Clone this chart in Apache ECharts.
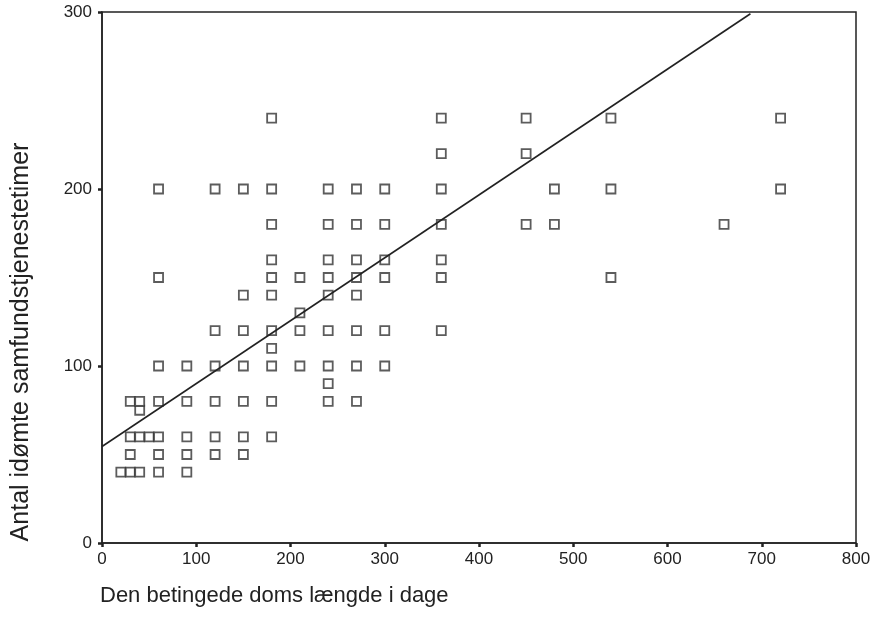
<!DOCTYPE html>
<html>
<head>
<meta charset="utf-8">
<script src="https://cdn.jsdelivr.net/npm/echarts@6/dist/echarts.min.js"></script>
<style>
html,body{margin:0;padding:0;background:#fff;}
#chart{width:879px;height:636px;}
</style>
</head>
<body>
<div id="chart"></div>
<script>
// Days of conditional sentence (x) and community service hours (y)
const days = [
  20,30,40,60,90,
  30,60,90,120,150,
  30,40,50,60,90,120,150,180,
  40,
  30,40,60,90,120,150,180,240,270,
  240,
  60,90,120,150,180,210,240,270,300,
  180,
  120,150,180,210,240,270,300,360,
  210,
  150,180,240,270,
  60,180,210,240,270,300,360,540,
  180,240,270,300,360,
  180,240,270,300,360,450,480,660,
  60,120,150,180,240,270,300,360,480,540,720,
  360,450,
  180,360,450,540,720
];
const hours = [
  40,40,40,40,40,
  50,50,50,50,50,
  60,60,60,60,60,60,60,60,
  75,
  80,80,80,80,80,80,80,80,80,
  90,
  100,100,100,100,100,100,100,100,100,
  110,
  120,120,120,120,120,120,120,120,
  130,
  140,140,140,140,
  150,150,150,150,150,150,150,150,
  160,160,160,160,160,
  180,180,180,180,180,180,180,180,
  200,200,200,200,200,200,200,200,200,200,200,
  220,220,
  240,240,240,240,240
];
// Fitted line endpoints
const fitX = [0, 688];
const fitY = [54.5, 299];
const xTicks = [0,100,200,300,400,500,600,700,800];
const yTicks = [0,100,200,300];
const xTitle = 'Den betingede doms længde i dage';
const yTitle = 'Antal idømte samfundstjenestetimer';

const chart = echarts.init(document.getElementById('chart'), null, {renderer:'canvas'});
const font = 'Liberation Sans, Arial, sans-serif';
chart.setOption({
  animation:false,
  backgroundColor:'#fff',
  grid:{left:102,right:23,top:12,bottom:93,show:true,borderColor:'#222',borderWidth:1.5,backgroundColor:'transparent'},
  xAxis:{
    type:'value',min:xTicks[0],max:xTicks[xTicks.length-1],interval:100,
    axisLine:{show:true,lineStyle:{color:'#222',width:1.5}},
    axisTick:{show:true,inside:false,length:4,lineStyle:{color:'#222',width:2.5}},
    axisLabel:{color:'#222',fontFamily:font,fontSize:17,margin:8},
    splitLine:{show:false}
  },
  yAxis:{
    type:'value',min:yTicks[0],max:yTicks[yTicks.length-1],interval:100,
    axisLine:{show:true,lineStyle:{color:'#222',width:1.5}},
    axisTick:{show:true,inside:false,length:4,lineStyle:{color:'#222',width:2.5}},
    axisLabel:{color:'#222',fontFamily:font,fontSize:17,margin:10},
    splitLine:{show:false}
  },
  graphic:[
    {type:'text',left:100,top:585,style:{text:xTitle,font:'22px '+font,fill:'#222'}},
    {type:'text',x:9,y:342,rotation:Math.PI/2,style:{text:yTitle,font:'25px '+font,fill:'#222',align:'center',verticalAlign:'top'}}
  ],
  series:[
    {
      type:'scatter',
      data:days.map((d,i)=>[d,hours[i]]),
      symbol:'rect',symbolSize:9,
      itemStyle:{color:'#fff',borderColor:'#333',borderWidth:1.8},
      z:3
    },
    {
      type:'line',
      data:fitX.map((d,i)=>[d,fitY[i]]),
      showSymbol:false,symbol:'none',
      lineStyle:{color:'#222',width:1.6},
      z:4
    }
  ]
});
</script>
</body>
</html>
